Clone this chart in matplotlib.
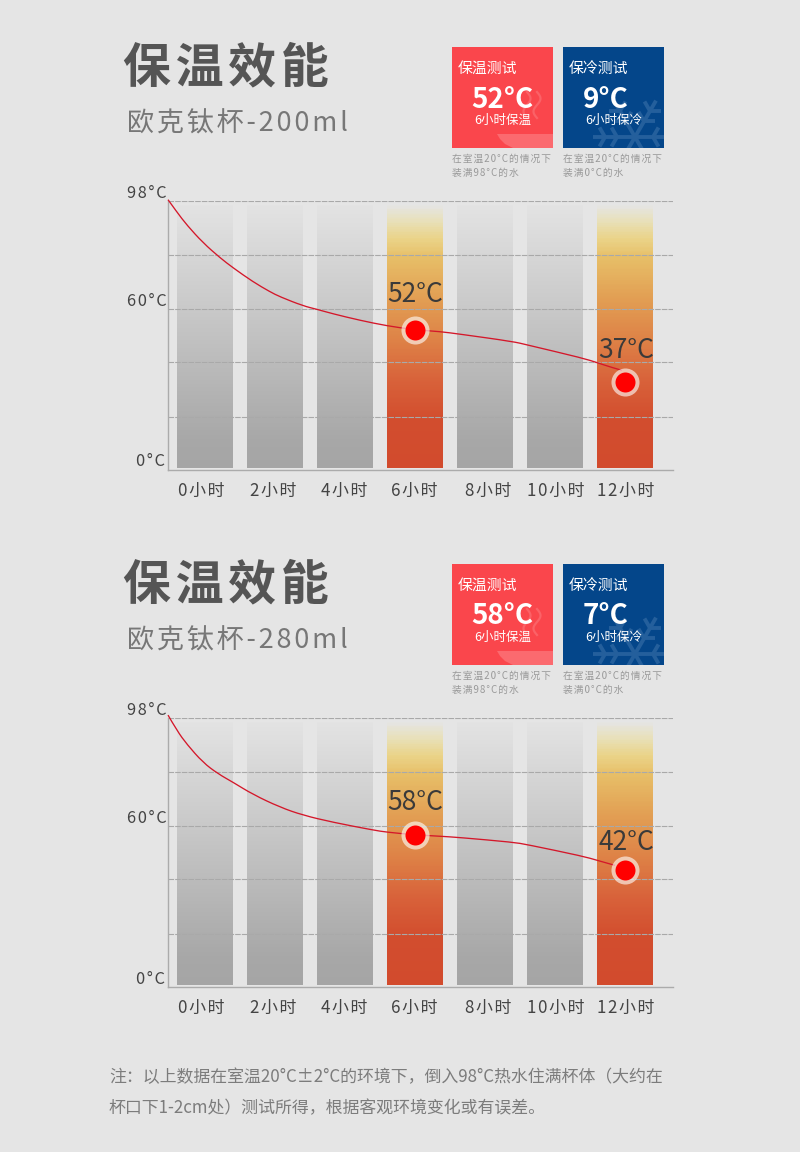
import numpy as np
import matplotlib
matplotlib.use('Agg')
import matplotlib.pyplot as plt
from matplotlib.colors import LinearSegmentedColormap
from matplotlib.patches import Rectangle, Polygon, PathPatch
from matplotlib.path import Path
from matplotlib.transforms import ScaledTranslation

plt.rcParams['font.family'] = ['Noto Sans CJK SC', 'DejaVu Sans']

# data
hours = [0, 2, 4, 6, 8, 10, 12]
hour_labels = ['0小时', '2小时', '4小时', '6小时', '8小时', '10小时', '12小时']
highlight_hours = [6, 12]
bar_bottom = 1
bar_top = 96.7
ytick_values = [0, 60, 98]
ytick_labels = ['0°C', '60°C', '98°C']
grid_values = [22.2, 40.4, 60, 79, 98]

curve_hours_a = [-1.057, -0.8, -0.514, -0.057, 0.429, 0.8, 1.371, 1.857, 2.143, 2.8, 3.2, 3.657, 4.429,
                 5.2, 6, 6.714, 7.286, 8.8, 9.2, 10.8, 11.2, 11.571, 11.914]
curve_temp_a = [98.43, 94.12, 89.54, 83.37, 78.08, 74.56, 69.62, 66.1, 64.34, 61.16, 59.95, 58.92, 56.75,
                54, 52, 51.27, 50.16, 47, 45.59, 41.14, 40.37, 39.62, 39.01]
points_a = [52, 37]

curve_hours_b = [-1.057, -0.8, -0.514, -0.057, 0.371, 0.8, 1.371, 2.143, 2.8, 3.657, 4.8, 5.2, 6,
                 6.714, 7.286, 8.8, 9.2, 10.8, 11.2, 11.714]
curve_temp_b = [98.89, 93.6, 88.76, 82.4, 78.44, 75.44, 71.14, 66.66, 63.84, 61.34, 59.1, 58.6, 58,
                57.3, 56.65, 54.3, 53.15, 47.98, 46.27, 44.09]
points_b = [58, 42]

hot_values = ['52°C', '58°C']
cold_values = ['9°C', '7°C']
sizes = ['欧克钛杯-200ml', '欧克钛杯-280ml']
note_lines = ['注\uff1a以上数据在室温20°C±2°C的环境下\uff0c倒入98°C热水住满杯体\uff08大约在',
              '杯口下1-2cm处\uff09测试所得\uff0c根据客观环境变化或有误差。']

# the picture's temperature axis is not even, these knots are read from it
scale_deg = [0, 37, 42, 52, 58, 60, 98, 100]
scale_level = [0, 88, 116.6, 140, 152, 160.7, 268.5, 275.5]


def forward(v):
    return np.interp(v, scale_deg, scale_level)


def inverse(v):
    return np.interp(v, scale_level, scale_deg)


BG = '#E5E5E5'
HAIR = '\u200a'
xlabel_shift = [-4, -1.5, -0.5, -0.5, 3, 1, 1]
grey_map = LinearSegmentedColormap.from_list('g', [(0, '#A5A5A5'), (0.1, '#A7A7A7'), (1, '#E3E3E3')])
warm_map = LinearSegmentedColormap.from_list('w', [(0, '#D24B2D'), (0.18, '#D24D2E'), (0.33, '#D8623A'),
                                                   (0.49, '#DE8347'), (0.65, '#E2A054'), (0.80, '#E7BF68'),
                                                   (0.87, '#EAD388'), (0.935, '#E8E0B8'), (1, '#E5E5E5')])


def spaced(s):
    return HAIR.join(s)


def smooth_path(xs, ys):
    # quadratic curve through the read points, so the line has no kinks
    x = np.asarray(xs, float)
    lv = forward(np.asarray(ys, float))
    verts = [(x[0], lv[0])]
    codes = [Path.MOVETO]
    for i in range(1, len(x) - 1):
        verts.append((x[i], lv[i]))
        if i < len(x) - 2:
            verts.append(((x[i] + x[i + 1]) / 2, (lv[i] + lv[i + 1]) / 2))
        else:
            verts.append((x[-1], lv[-1]))
        codes += [Path.CURVE3, Path.CURVE3]
    verts = np.array(verts)
    verts[:, 1] = inverse(verts[:, 1])
    return Path(verts, codes)


fig = plt.figure(figsize=(8, 11.52), dpi=100, facecolor=BG)
W, H = 800.0, 1152.0

# pixel layer for headers and badges
back = fig.add_axes([0, 0, 1, 1])
back.set_xlim(0, W)
back.set_ylim(H, 0)
back.axis('off')


def draw_header(dy, size, hot, cold):
    back.text(123, 68 + dy, spaced('保温效能'), fontsize=34.5, fontweight='bold', color='#555555', va='center')
    back.text(127, 124 + dy, spaced(size), fontsize=19.5, color='#777777', va='center')

    red = Rectangle((452, 47 + dy), 101, 101, fc='#FA464C', ec='none')
    blue = Rectangle((563, 47 + dy), 101, 101, fc='#04468A', ec='none')
    back.add_patch(red)
    back.add_patch(blue)

    # decoration in the red badge
    bowl = Polygon([(497, 134 + dy), (553, 134 + dy), (553, 148 + dy), (513, 148 + dy), (505, 144 + dy), (500, 139 + dy)],
                   fc='#FB6A6F', ec='none')
    back.add_patch(bowl)
    bowl.set_clip_path(red)
    t = np.linspace(0, 1, 30)
    for x0 in (527, 537):
        back.plot(x0 + 3.5 * np.sin(t * 2 * np.pi), 92 + dy + 26 * t, color='#FB6267', lw=1.6)

    # snowflake in the blue badge
    cx, cy = 635, 137 + dy
    for a in np.arange(6) * np.pi / 3:
        ux, uy = np.cos(a), np.sin(a)
        lines = [([cx, cx + 42 * ux], [cy, cy + 42 * uy])]
        for r in (18, 30):
            for s in (-1, 1):
                b = a + s * np.pi / 3
                lines.append(([cx + r * ux, cx + r * ux + 11 * np.cos(b)], [cy + r * uy, cy + r * uy + 11 * np.sin(b)]))
        for xs, ys in lines:
            ln, = back.plot(xs, ys, color='#245F9C', lw=2.8, solid_capstyle='butt')
            ln.set_clip_path(blue)

    for x0, head, value, value_dx, foot, line2 in ((452, '保温测试', hot, 50, '6小时保温', '装满98°C的水'),
                                                   (563, '保冷测试', cold, 42.5, '6小时保冷', '装满0°C的水')):
        back.text(x0 + 6, 69 + dy, head, fontsize=10.7, color='white', va='center', fontweight='medium')
        back.text(x0 + value_dx, 99.5 + dy, value, fontsize=20, color='white', va='center', ha='center', fontweight='bold')
        back.text(x0 + 50.5, 120.5 + dy, foot, fontsize=9, color='white', va='center', ha='center')
        back.text(x0, 158.5 + dy, spaced('在室温20°C的情况下'), fontsize=7, color='#999999', va='center')
        back.text(x0, 172.5 + dy, spaced(line2), fontsize=7, color='#999999', va='center')


def draw_chart(dy, curve_h, curve_t, points, label_offsets):
    top, bottom = 201.2 + dy, 470.0 + dy
    ax = fig.add_axes([168 / W, 1 - bottom / H, 505 / W, (bottom - top) / H])
    ax.patch.set_alpha(0)
    ax.set_yscale('function', functions=(forward, inverse))
    ax.set_xlim((168 - 205) / 35, (673 - 205) / 35)
    ax.set_ylim(0, 98)

    for h in hours:
        levels = np.linspace(forward(bar_bottom), forward(bar_top), 201)
        edges = inverse(levels)
        frac = (levels[:-1] - levels[0]) / (levels[-1] - levels[0])
        cmap = warm_map if h in highlight_hours else grey_map
        ax.pcolormesh([h - 0.8, h + 0.8], edges, frac[:, None], cmap=cmap, vmin=0, vmax=1,
                      shading='flat', zorder=1, antialiased=False)

    for g in grid_values:
        ax.axhline(g, color='#A9A9A9', lw=0.8, ls=(0, (5, 1)), zorder=2)

    ax.add_patch(PathPatch(smooth_path(curve_h, curve_t), fc='none', ec='#D4172A', lw=0.95, zorder=3, clip_on=False))
    ax.plot(highlight_hours, points, ls='none', marker='o', ms=20.2, mfc='white', mec='none', alpha=0.6, zorder=4)
    ax.plot(highlight_hours, points, ls='none', marker='o', ms=14.4, mfc='#FF0000', mec='none', zorder=5)

    for h, p, off in zip(highlight_hours, points, label_offsets):
        ax.annotate(f'{p}°C', (h, p), xytext=(off[0] * 0.72, off[1] * 0.72), textcoords='offset points',
                    ha='center', va='center', fontsize=19, color='#3A3A3A', zorder=6)

    ax.set_xticks(hours)
    ax.set_xticklabels([spaced(s) for s in hour_labels], fontsize=12.2, color='#444444')
    ax.set_yticks(ytick_values)
    ax.set_yticklabels([spaced(s) for s in ytick_labels], fontsize=11.8, color='#444444')
    ax.minorticks_off()
    ax.tick_params(axis='both', length=0)
    ax.tick_params(axis='x', pad=8.5)
    ax.tick_params(axis='y', pad=1)
    for v, lab in zip(ytick_values, ax.get_yticklabels()):
        shift = ScaledTranslation(-1 / 72 if v == 0 else 0, 10 / 100, fig.dpi_scale_trans)
        lab.set_transform(lab.get_transform() + shift)
    for dx, lab in zip(xlabel_shift, ax.get_xticklabels()):
        lab.set_transform(lab.get_transform() + ScaledTranslation(dx / 100, 0, fig.dpi_scale_trans))

    for side in ('top', 'right'):
        ax.spines[side].set_visible(False)
    for side in ('left', 'bottom'):
        ax.spines[side].set_color('#ABABAB')
        ax.spines[side].set_linewidth(1.0)


draw_header(0, sizes[0], hot_values[0], cold_values[0])
draw_header(517, sizes[1], hot_values[1], cold_values[1])
draw_chart(0, curve_hours_a, curve_temp_a, points_a, [(0, 35), (1.5, 31.5)])
draw_chart(517, curve_hours_b, curve_temp_b, points_b, [(0, 32), (1, 27.5)])

for y, line in zip((1077.5, 1108.5), note_lines):
    back.text(109, y, line, fontsize=12.2, color='#7C7C7C', va='center')

fig.savefig('out.png', dpi=100, facecolor=BG)
